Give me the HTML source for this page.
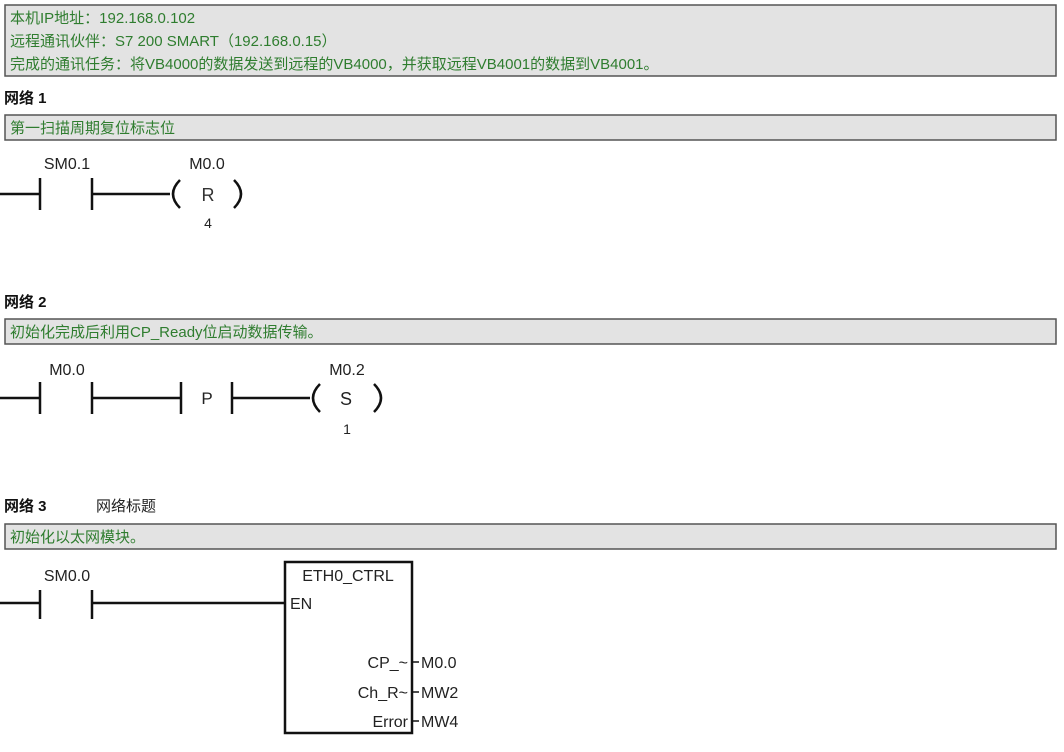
<!DOCTYPE html>
<html><head><meta charset="utf-8"><style>
html,body{margin:0;padding:0;background:#fff;width:1064px;height:752px;overflow:hidden}
svg{display:block}
</style></head><body>
<svg width="1064" height="752" xmlns="http://www.w3.org/2000/svg" font-family="'Liberation Sans','Noto Sans CJK SC',sans-serif">
<rect width="1064" height="752" fill="#fff"/>
<g fill="#e3e3e3" stroke="#555" stroke-width="1.5">
<rect x="5" y="5" width="1051" height="71"/>
<rect x="5" y="115" width="1051" height="25"/>
<rect x="5" y="319" width="1051" height="25"/>
<rect x="5" y="524" width="1051" height="25"/>
</g>
<g fill="#2f7d2f" font-size="15">
<text x="10" y="23">本机IP地址：192.168.0.102</text>
<text x="10" y="46">远程通讯伙伴：S7 200 SMART（192.168.0.15）</text>
<text x="10" y="69">完成的通讯任务：将VB4000的数据发送到远程的VB4000，并获取远程VB4001的数据到VB4001。</text>
<text x="10" y="133">第一扫描周期复位标志位</text>
<text x="10" y="337">初始化完成后利用CP_Ready位启动数据传输。</text>
<text x="10" y="542">初始化以太网模块。</text>
</g>
<g fill="#111" font-size="15" font-weight="bold">
<text x="4" y="103">网络 1</text>
<text x="4" y="307">网络 2</text>
<text x="4" y="511">网络 3</text>
</g>
<text x="96" y="511" font-size="15" fill="#222">网络标题</text>
<g stroke="#111" stroke-width="2.5" fill="none">
<line x1="0" y1="194" x2="40" y2="194"/>
<line x1="40" y1="178" x2="40" y2="210"/>
<line x1="92" y1="178" x2="92" y2="210"/>
<line x1="92" y1="194" x2="170" y2="194"/>
<path d="M180 180 Q166 194 180 208"/>
<path d="M234 180 Q248 194 234 208"/>
<line x1="0" y1="398" x2="40" y2="398"/>
<line x1="40" y1="382" x2="40" y2="414"/>
<line x1="92" y1="382" x2="92" y2="414"/>
<line x1="92" y1="398" x2="181" y2="398"/>
<line x1="181" y1="382" x2="181" y2="414"/>
<line x1="232" y1="382" x2="232" y2="414"/>
<line x1="232" y1="398" x2="310" y2="398"/>
<path d="M320 384 Q306 398 320 412"/>
<path d="M374 384 Q388 398 374 412"/>
<line x1="0" y1="603" x2="40" y2="603"/>
<line x1="40" y1="590" x2="40" y2="619"/>
<line x1="92" y1="590" x2="92" y2="619"/>
<line x1="92" y1="603" x2="285" y2="603"/>
<rect x="285" y="562" width="127" height="171"/>
</g>
<g stroke="#111" stroke-width="1.5">
<line x1="412" y1="662" x2="419" y2="662"/>
<line x1="412" y1="692" x2="419" y2="692"/>
<line x1="412" y1="721" x2="419" y2="721"/>
</g>
<g fill="#222" font-size="16" text-anchor="middle">
<text x="67" y="169">SM0.1</text>
<text x="207" y="169">M0.0</text>
<text x="208" y="201" font-size="18" fill="#333">R</text>
<text x="208" y="228" font-size="14">4</text>
<text x="67" y="375">M0.0</text>
<text x="207" y="404" font-size="17">P</text>
<text x="347" y="375">M0.2</text>
<text x="346" y="405" font-size="18">S</text>
<text x="347" y="434" font-size="14">1</text>
<text x="67" y="581">SM0.0</text>
<text x="348" y="581">ETH0_CTRL</text>
</g>
<g fill="#222" font-size="16">
<text x="290" y="609">EN</text>
<text x="408" y="668" text-anchor="end">CP_~</text>
<text x="408" y="698" text-anchor="end">Ch_R~</text>
<text x="408" y="727" text-anchor="end">Error</text>
<text x="421" y="668">M0.0</text>
<text x="421" y="698">MW2</text>
<text x="421" y="727">MW4</text>
</g>
</svg>
</body></html>
